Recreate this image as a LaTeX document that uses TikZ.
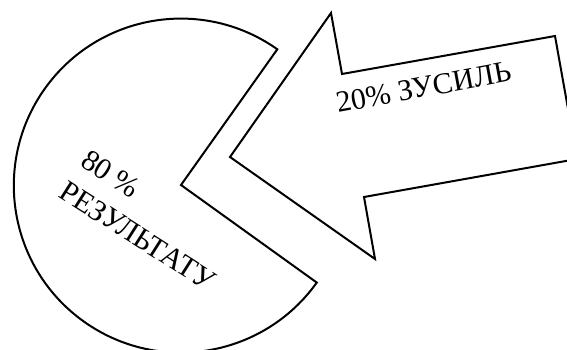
\documentclass[tikz,border=0pt]{standalone}
\usepackage{fontspec}
\setmainfont{Liberation Serif}
\begin{document}
\begin{tikzpicture}[x=1pt,y=1pt,
  outline/.style={draw=black,line width=2pt,line join=miter,fill=white},
  lbl/.style={inner sep=0pt,anchor=base west,font=\fontsize{30}{36}\selectfont}]
\useasboundingbox (0,0) rectangle (567,349);
% pie
\coordinate (C) at (180,164);
\coordinate (V) at (181,164);
\draw[outline] (V) -- ([shift={(C)}]-35.5:168) arc[start angle=-35.5,end angle=-305.3,radius=167] -- cycle;
% arrow
\coordinate (T) at (230,192);
\coordinate (H1) at (331,336);
\coordinate (N1) at (342,275);
\coordinate (E1) at (555,313);
\coordinate (E2) at (577,190);
\coordinate (N2) at (364,152);
\coordinate (H2) at (375,90);
\draw[outline] (T) -- (H1) -- (N1) -- (E1) -- (E2) -- (N2) -- (H2) -- cycle;
% labels
\node[lbl,rotate=10.5] (eff) at (338,236) {20\% ЗУСИЛЬ};
\node[lbl,rotate=-32.5] (res1) at (79,184) {80 \%};
\node[lbl,rotate=-32.5] (res2) at (57,153) {РЕЗУЛЬТАТУ};
\end{tikzpicture}
\end{document}
